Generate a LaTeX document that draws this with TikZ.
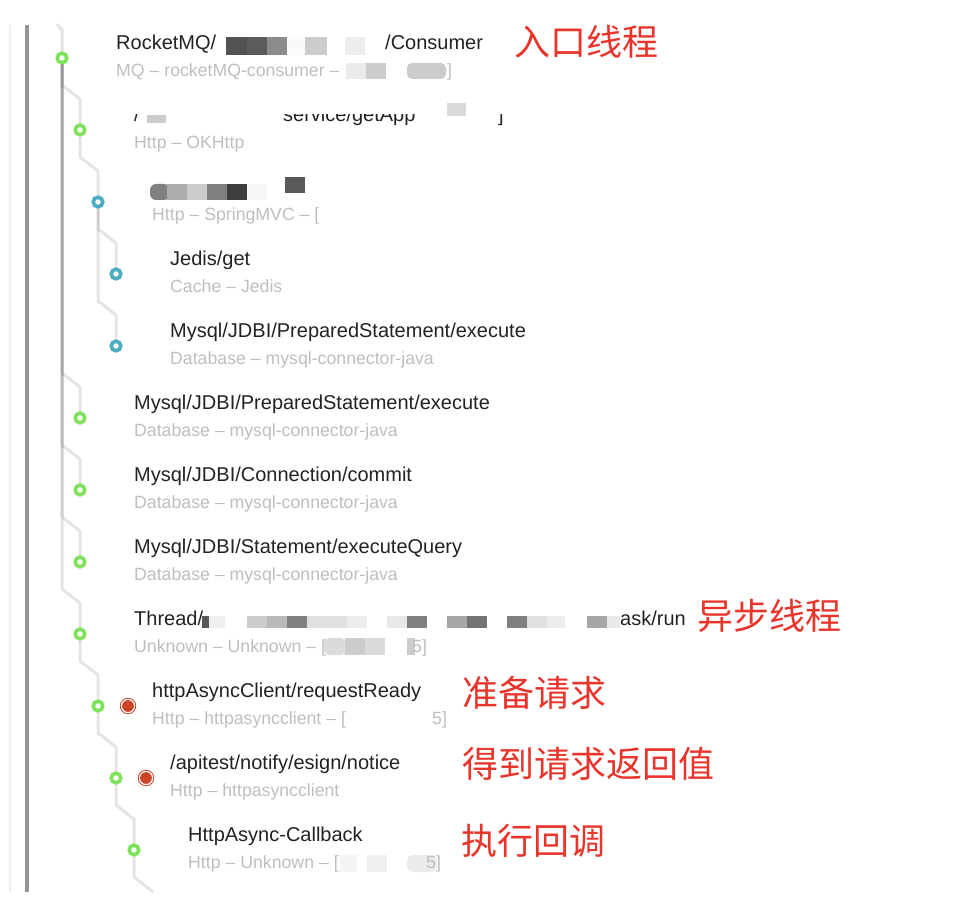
\documentclass[tikz,border=0pt]{standalone}
\usepackage{fontspec}
\setmainfont{Liberation Sans}
\newfontfamily\cjkfont{Noto Sans CJK SC}
\usetikzlibrary{calc}
\definecolor{ringgreen}{RGB}{127,226,92}
\definecolor{ringteal}{RGB}{76,173,194}
\definecolor{dotred}{RGB}{205,68,40}
\definecolor{notered}{RGB}{232,52,42}
\definecolor{titlec}{RGB}{34,34,34}
\definecolor{subc}{RGB}{190,190,190}
\definecolor{railc}{RGB}{150,150,150}
\definecolor{railfaint}{RGB}{238,238,238}
\pgfdeclarelayer{bg}
\pgfsetlayers{bg,main}
\newcommand\tbranch[2]{\draw[branch] (#1.center) -- ($(#1.center |- #2.center)+(0,-45)$) -- ($(#2.center)+(0,-31)$) -- (#2.center);}
\newcommand\mosaic[5]{\fill[black!#1] (#2,#3) rectangle (#4,#5);}
\begin{document}
\begin{tikzpicture}[x=1pt,y=-1pt,
  branch/.style={draw=black, draw opacity=0.1, line width=3pt},
  gring/.style={circle, draw=ringgreen, fill=white, line width=3.6pt, minimum size=9.6pt, inner sep=0pt},
  tring/.style={gring, draw=ringteal},
  rdot/.style={circle, fill=dotred, draw=dotred, double=white, double distance=1.2pt, line width=1pt, minimum size=13.2pt, inner sep=0pt},
  ttl/.style={anchor=base west, inner sep=0pt, text=titlec, font=\fontsize{20}{22}\selectfont},
  sub/.style={anchor=base west, inner sep=0pt, text=subc, font=\fontsize{17.7}{20}\selectfont},
  note/.style={anchor=west, inner sep=0pt, text=notered, font=\cjkfont\fontsize{36}{40}\selectfont},
  rail/.style={draw=railc, line width=3.3pt},
  railthin/.style={draw=railfaint, line width=1.2pt}
]
\useasboundingbox (0,0) rectangle (954,912);

% rails
\coordinate (ftop) at (10,25);
\coordinate (fbot) at (10,892);
\coordinate (rtop) at (27,25);
\coordinate (rbot) at (27,892);
\draw[railthin] (ftop) -- (fbot);
\draw[rail] (rtop) -- (rbot);

% tree nodes
\node[gring] (n1) at (62,58) {};
\node[gring] (n2) at (80,130) {};
\node[tring] (n3) at (98,202) {};
\node[tring] (n4) at (116,274) {};
\node[tring] (n5) at (116,346) {};
\node[gring] (n6) at (80,418) {};
\node[gring] (n7) at (80,490) {};
\node[gring] (n8) at (80,562) {};
\node[gring] (n9) at (80,634) {};
\node[gring] (n10) at (98,706) {};
\node[gring] (n11) at (116,778) {};
\node[gring] (n12) at (134,850) {};
\coordinate (n13) at (152,922);
\coordinate (rin) at (57,24);
\node[rdot] (r10) at (128,706) {};
\node[rdot] (r11) at (146,778) {};

\begin{pgfonlayer}{bg}
\begin{scope}
\clip (0,0) rectangle (954,892);
\draw[branch] (rin) -- ($(rin)+(5,6)$) -- (n1.center);
\tbranch{n1}{n2}
\tbranch{n1}{n6}
\tbranch{n1}{n7}
\tbranch{n1}{n8}
\tbranch{n1}{n9}
\tbranch{n2}{n3}
\tbranch{n3}{n4}
\tbranch{n3}{n5}
\tbranch{n9}{n10}
\tbranch{n10}{n11}
\tbranch{n11}{n12}
\tbranch{n12}{n13}
\end{scope}
\end{pgfonlayer}

% node 1
\node[ttl] (t1a) at (116,49.5) {RocketMQ/};
\mosaic{68}{226}{37}{247}{55}
\mosaic{64}{247}{37}{267}{55}
\mosaic{45}{267}{37}{287}{55}
\mosaic{2}{287}{37}{305}{55}
\mosaic{20}{305}{37}{327}{55}
\mosaic{7}{345}{37}{365}{55}
\node[ttl] (t1b) at (385,49.5) {/Consumer};
\node[sub] (s1a) at (116,76.5) {MQ – rocketMQ-consumer – };
\mosaic{8}{346}{63}{366}{79}
\mosaic{20}{366}{63}{386}{79}
\fill[black!20, rounded corners=5pt] (407,63) rectangle (446,79);
\node[sub] (s1b) at (447,76.5) {]};

% node 2
\begin{scope}
\clip (130,115) rectangle (520,130);
\node[ttl] (t2a) at (134,121.5) {/};
\node[ttl] (t2b) at (283,121.5) {service/getApp};
\node[ttl] (t2c) at (498,121.5) {]};
\end{scope}
\mosaic{20}{147}{115}{166}{123}
\mosaic{15}{447}{103}{466}{116}
\node[sub] (s2) at (134,148.5) {Http – OKHttp};

% node 3
\fill[black!50, rounded corners=6pt] (150,184) rectangle (170,200);
\mosaic{32}{167}{184}{187}{200}
\mosaic{20}{187}{184}{207}{200}
\mosaic{50}{207}{184}{227}{200}
\mosaic{76}{227}{184}{247}{200}
\mosaic{3}{247}{184}{267}{200}
\mosaic{65}{285}{177}{305}{193}
\node[sub] (s3) at (152,220.5) {Http – SpringMVC – [};

% nodes 4-8
\node[ttl] (t4) at (170,265.5) {Jedis/get};
\node[sub] (s4) at (170,292.5) {Cache – Jedis};
\node[ttl] (t5) at (170,337.5) {Mysql/JDBI/PreparedStatement/execute};
\node[sub] (s5) at (170,364.5) {Database – mysql-connector-java};
\node[ttl] (t6) at (134,409.5) {Mysql/JDBI/PreparedStatement/execute};
\node[sub] (s6) at (134,436.5) {Database – mysql-connector-java};
\node[ttl] (t7) at (134,481.5) {Mysql/JDBI/Connection/commit};
\node[sub] (s7) at (134,508.5) {Database – mysql-connector-java};
\node[ttl] (t8) at (134,553.5) {Mysql/JDBI/Statement/executeQuery};
\node[sub] (s8) at (134,580.5) {Database – mysql-connector-java};

% node 9
\node[ttl] (t9a) at (134,625.5) {Thread/};
\mosaic{65}{202}{616}{209}{628}
\mosaic{6}{209}{616}{225}{628}
\mosaic{20}{247}{616}{267}{628}
\mosaic{27}{267}{616}{287}{628}
\mosaic{50}{287}{616}{307}{628}
\mosaic{12}{307}{616}{327}{628}
\mosaic{12}{327}{616}{347}{628}
\mosaic{7}{347}{616}{367}{628}
\mosaic{9}{387}{616}{407}{628}
\mosaic{50}{407}{616}{427}{628}
\mosaic{35}{447}{616}{467}{628}
\mosaic{55}{467}{616}{487}{628}
\mosaic{50}{507}{616}{527}{628}
\mosaic{12}{527}{616}{547}{628}
\mosaic{7}{547}{616}{565}{628}
\mosaic{35}{587}{616}{607}{628}
\mosaic{9}{607}{616}{620}{628}
\node[ttl] (t9b) at (620,625.5) {ask/run};
\node[sub] (s9a) at (134,652.5) {Unknown – Unknown – [};
\fill[black!14, rounded corners=5pt] (324,638) rectangle (346,655);
\mosaic{20}{345}{638}{365}{655}
\mosaic{14}{365}{638}{385}{655}
\mosaic{20}{407}{638}{415}{655}
\node[sub] (s9b) at (412,652.5) {5]};

% node 10
\node[ttl] (t10) at (152,697.5) {httpAsyncClient/requestReady};
\node[sub] (s10a) at (152,724.5) {Http – httpasyncclient – [};
\node[sub] (s10b) at (432,724.5) {5]};

% node 11
\node[ttl] (t11) at (170,769.5) {/apitest/notify/esign/notice};
\node[sub] (s11) at (170,796.5) {Http – httpasyncclient};

% node 12
\node[ttl] (t12) at (188,841.5) {HttpAsync-Callback};
\node[sub] (s12a) at (188,868.5) {Http – Unknown – [};
\mosaic{4}{340}{855}{357}{872}
\mosaic{6}{367}{855}{387}{872}
\fill[black!8, rounded corners=5pt] (407,855) rectangle (437,872);
\node[sub] (s12b) at (426,868.5) {5]};

% annotations
\node[note] (a1) at (514,42) {入口线程};
\node[note] (a2) at (697,616) {异步线程};
\node[note] (a3) at (462,693) {准备请求};
\node[note] (a4) at (462,764) {得到请求返回值};
\node[note] (a5) at (461,841) {执行回调};
\end{tikzpicture}
\end{document}
